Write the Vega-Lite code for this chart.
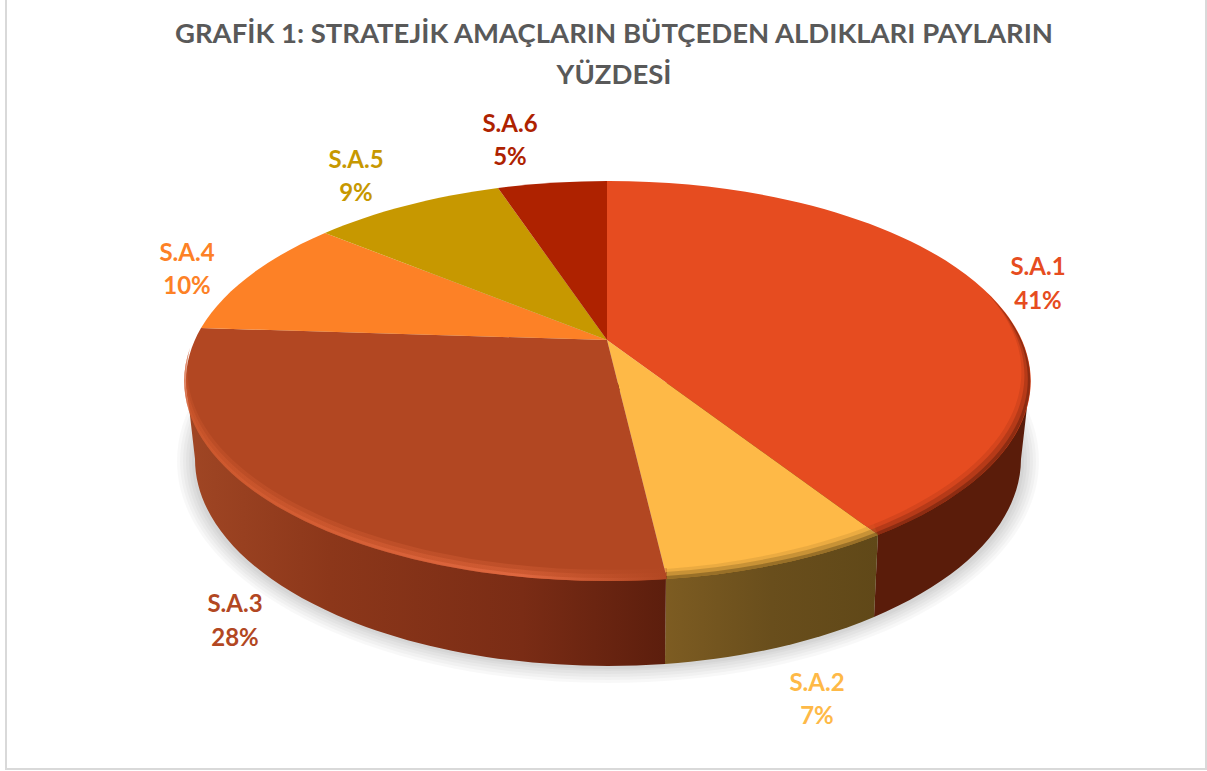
{
"$schema":"https://vega.github.io/schema/vega-lite/v6.json",
"width":1200,"height":772,
"autosize":{"type":"none"},
"padding":{"left":6,"right":1,"top":-3,"bottom":2},
"background":"#ffffff",
"view":{"stroke":"#d9d9d9","strokeWidth":2,"fill":"#ffffff"},
"title":{"text":["GRAFİK 1: STRATEJİK AMAÇLARIN BÜTÇEDEN ALDIKLARI PAYLARIN","YÜZDESİ"],"font":"Lato","fontSize":27.5,"fontWeight":"bold","color":"#595959","lineHeight":41,"anchor":"middle","dx":8,"baseline":"top","offset":-92},
"data":{"values":[
{"name":"S.A.1","percent":0.41},
{"name":"S.A.2","percent":0.07},
{"name":"S.A.3","percent":0.28},
{"name":"S.A.4","percent":0.10},
{"name":"S.A.5","percent":0.09},
{"name":"S.A.6","percent":0.05}]},
"resolve":{"scale":{"shape":"independent"}},
"layer":[
{"mark":{"type":"point","filled":true,"opacity":0.028,"strokeWidth":0,"fill":"#000000"},
 "encoding":{"size":{"value":4},"shape":{"field":"name","type":"nominal","legend":null,"scale":{"domain":["S.A.1","S.A.2","S.A.3","S.A.4","S.A.5","S.A.6"],"range":[
  "M-429,78 A431,222 0 1 1 433,78 A431,222 0 1 1 -429,78 Z",
  "M-426,78 A428,219 0 1 1 430,78 A428,219 0 1 1 -426,78 Z",
  "M-423,78 A425,216 0 1 1 427,78 A425,216 0 1 1 -423,78 Z",
  "M-420,78 A422,213 0 1 1 424,78 A422,213 0 1 1 -420,78 Z",
  "M-417,78 A419,210 0 1 1 421,78 A419,210 0 1 1 -417,78 Z",
  "M-414,78 A416,208 0 1 1 418,78 A416,208 0 1 1 -414,78 Z"]}}}},
{"transform":[{"filter":"datum.name==='S.A.1'"}],
 "mark":{"type":"point","filled":true,"opacity":1,"strokeWidth":0,"fill":"#5a1c0a"},
 "encoding":{"size":{"value":4},"shape":{"value":"M424,-2 L415,76 A413,207 0 0 1 268,234 L272,150 L0,0 Z"}}},
{"transform":[{"filter":"datum.name==='S.A.2'"}],
 "mark":{"type":"point","filled":true,"opacity":1,"strokeWidth":0,"fill":{"gradient":"linear","x1":0,"y1":0,"x2":1,"y2":0,"stops":[{"offset":0,"color":"#7d5c22"},{"offset":0.5,"color":"#694e1c"},{"offset":1,"color":"#604818"}]}},
 "encoding":{"size":{"value":4},"shape":{"value":"M272,150 L268,234 A413,207 0 0 1 59,281 L60,190 Z"}}},
{"transform":[{"filter":"datum.name==='S.A.3'"}],
 "mark":{"type":"point","filled":true,"opacity":1,"strokeWidth":0,"fill":{"gradient":"linear","x1":0,"y1":0,"x2":1,"y2":0,"stops":[{"offset":0,"color":"#a04624"},{"offset":0.3,"color":"#8c371a"},{"offset":0.7,"color":"#7a2c15"},{"offset":1,"color":"#5c1e0d"}]}},
 "encoding":{"size":{"value":4},"shape":{"value":"M60,190 L59,281 A413,207 0 0 1 -411,76 L-420,-2 Z"}}},
{"mark":{"type":"point","filled":true,"opacity":1,"strokeWidth":0},
 "encoding":{"size":{"value":4},
  "shape":{"field":"name","type":"nominal","legend":null,"scale":{"domain":["S.A.1","S.A.2","S.A.3","S.A.4","S.A.5","S.A.6"],"range":[
   "M1,-43 L1,-202 A422,200 0 0 1 272,152 Z",
   "M1,-43 L272,152 A422,200 0 0 1 61,196 Z",
   "M1,-43 L61,196 A422,200 0 0 1 -405,-55 Z",
   "M1,-43 L-405,-55 A422,200 0 0 1 -281,-150 Z",
   "M1,-43 L-281,-150 A422,200 0 0 1 -108,-195 Z",
   "M1,-43 L-108,-195 A422,200 0 0 1 1,-202 Z"]}},
  "color":{"field":"name","type":"nominal","legend":null,"scale":{"domain":["S.A.1","S.A.2","S.A.3","S.A.4","S.A.5","S.A.6"],"range":["#e64c20","#feb947","#b24722","#fd8126","#c79800","#ae2200"]}}}},
{"transform":[{"filter":"datum.name==='S.A.3'"}],
 "mark":{"type":"point","filled":true,"opacity":0.3,"strokeWidth":0,"fill":{"gradient":"linear","x1":0,"y1":0,"x2":1,"y2":0,"stops":[{"offset":0,"color":"#d25a2e"},{"offset":0.7,"color":"#e0663c"},{"offset":1,"color":"#b24722"}]}},
 "encoding":{"size":{"value":4},"shape":{"value":"M61,196 A422,200 0 0 1 -416,-35 A422,200 0 0 0 61,185 Z"}}},
{"transform":[{"filter":"datum.name==='S.A.3'"}],
 "mark":{"type":"point","filled":true,"opacity":0.45,"strokeWidth":0,"fill":{"gradient":"linear","x1":0,"y1":0,"x2":1,"y2":0,"stops":[{"offset":0,"color":"#d25a2e"},{"offset":0.7,"color":"#e0663c"},{"offset":1,"color":"#b24722"}]}},
 "encoding":{"size":{"value":4},"shape":{"value":"M61,196 A422,200 0 0 1 -416,-35 A422,200 0 0 0 61,189 Z"}}},
{"transform":[{"filter":"datum.name==='S.A.3'"}],
 "mark":{"type":"point","filled":true,"opacity":0.6,"strokeWidth":0,"fill":{"gradient":"linear","x1":0,"y1":0,"x2":1,"y2":0,"stops":[{"offset":0,"color":"#d25a2e"},{"offset":0.7,"color":"#ea7048"},{"offset":1,"color":"#b24722"}]}},
 "encoding":{"size":{"value":4},"shape":{"value":"M61,196 A422,200 0 0 1 -416,-35 A422,200 0 0 0 61,193 Z"}}},
{"transform":[{"filter":"datum.name==='S.A.1'"}],
 "mark":{"type":"point","filled":true,"opacity":0.12,"strokeWidth":0,"fill":"#5a1c0a"},
 "encoding":{"size":{"value":4},"shape":{"value":"M381,-90 A422,200 0 0 1 272,152 L268,141 A422,200 0 0 0 381,-90 Z"}}},
{"transform":[{"filter":"datum.name==='S.A.1'"}],
 "mark":{"type":"point","filled":true,"opacity":0.25,"strokeWidth":0,"fill":"#5a1c0a"},
 "encoding":{"size":{"value":4},"shape":{"value":"M381,-90 A422,200 0 0 1 272,152 L269,145 A422,200 0 0 0 381,-90 Z"}}},
{"transform":[{"filter":"datum.name==='S.A.1'"}],
 "mark":{"type":"point","filled":true,"opacity":0.45,"strokeWidth":0,"fill":"#5a1c0a"},
 "encoding":{"size":{"value":4},"shape":{"value":"M381,-90 A422,200 0 0 1 272,152 L271,149 A422,200 0 0 0 381,-90 Z"}}},
{"transform":[{"filter":"datum.name==='S.A.2'"}],
 "mark":{"type":"point","filled":true,"opacity":0.12,"strokeWidth":0,"fill":"#604818"},
 "encoding":{"size":{"value":4},"shape":{"value":"M272,152 A422,200 0 0 1 61,196 L60,186 A422,200 0 0 0 268,141 Z"}}},
{"transform":[{"filter":"datum.name==='S.A.2'"}],
 "mark":{"type":"point","filled":true,"opacity":0.25,"strokeWidth":0,"fill":"#604818"},
 "encoding":{"size":{"value":4},"shape":{"value":"M272,152 A422,200 0 0 1 61,196 L60,189 A422,200 0 0 0 269,145 Z"}}},
{"transform":[{"filter":"datum.name==='S.A.2'"}],
 "mark":{"type":"point","filled":true,"opacity":0.45,"strokeWidth":0,"fill":"#604818"},
 "encoding":{"size":{"value":4},"shape":{"value":"M272,152 A422,200 0 0 1 61,196 L60,193 A422,200 0 0 0 271,149 Z"}}},
{"mark":{"type":"text","font":"Lato","fontSize":24,"fontWeight":"bold","align":"center","baseline":"middle",
  "dx":{"expr":"{'S.A.1':432,'S.A.2':211,'S.A.3':-371,'S.A.4':-419,'S.A.5':-250,'S.A.6':-96}[datum.name]"},
  "dy":{"expr":"{'S.A.1':-115,'S.A.2':301,'S.A.3':222,'S.A.4':-129,'S.A.5':-222,'S.A.6':-258}[datum.name]"}},
 "encoding":{"text":{"field":"name","type":"nominal"},
  "color":{"field":"name","type":"nominal","legend":null,"scale":{"domain":["S.A.1","S.A.2","S.A.3","S.A.4","S.A.5","S.A.6"],"range":["#e64c20","#feb947","#b24722","#fd8126","#c79800","#ae2200"]}}}},
{"mark":{"type":"text","font":"Lato","fontSize":24,"fontWeight":"bold","align":"center","baseline":"middle",
  "dx":{"expr":"{'S.A.1':432,'S.A.2':211,'S.A.3':-371,'S.A.4':-419,'S.A.5':-250,'S.A.6':-96}[datum.name]"},
  "dy":{"expr":"{'S.A.1':-81,'S.A.2':334,'S.A.3':256,'S.A.4':-96,'S.A.5':-189,'S.A.6':-225}[datum.name]"}},
 "encoding":{"text":{"field":"percent","type":"quantitative","format":".0%"},
  "color":{"field":"name","type":"nominal","legend":null,"scale":{"domain":["S.A.1","S.A.2","S.A.3","S.A.4","S.A.5","S.A.6"],"range":["#e64c20","#feb947","#b24722","#fd8126","#c79800","#ae2200"]}}}}
]}
